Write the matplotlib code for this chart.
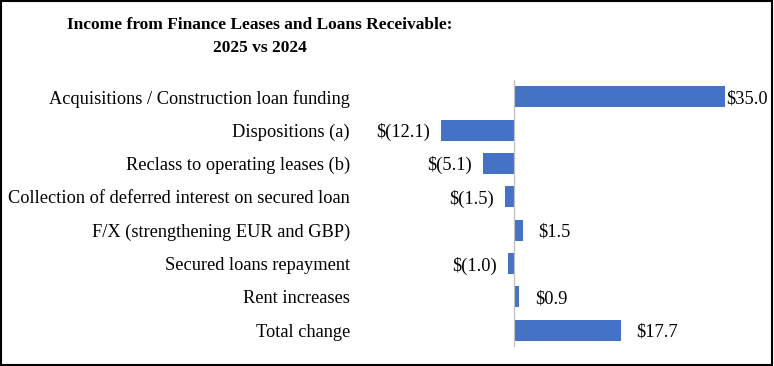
import matplotlib
matplotlib.use("Agg")
import matplotlib.pyplot as plt
from matplotlib.patches import Rectangle

# donnees
categories = [
    "Acquisitions / Construction loan funding",
    "Dispositions (a)",
    "Reclass to operating leases (b)",
    "Collection of deferred interest on secured loan",
    "F/X (strengthening EUR and GBP)",
    "Secured loans repayment",
    "Rent increases",
    "Total change",
]
values = [35.0, -12.1, -5.1, -1.5, 1.5, -1.0, 0.9, 17.7]
title_lines = ["Income from Finance Leases and Loans Receivable:", "2025 vs 2024"]

bar_color = "#4472C4"
W, H = 774, 366

plt.rcParams['font.family'] = ['Liberation Serif', 'DejaVu Serif']

fig = plt.figure(figsize=(W / 100, H / 100), dpi=100)

# axes en pixels: gauche 370, droite 768, haut 80, bas 347
left, right, top, bottom = 370, 768, 80, 347
ax = fig.add_axes([left / W, 1 - bottom / H, (right - left) / W, (bottom - top) / H])

ypos = list(range(len(categories)))
ax.barh(ypos, values, height=0.63, color=bar_color)
ax.set_xlim(-(514 - left) / 6.03, (right - 514) / 6.03)
ax.set_ylim(len(categories) - 0.5, -0.5)
ax.axvline(0, color="#BFBFBF", lw=0.9)

ax.set_yticks(ypos)
ax.set_yticklabels(categories, fontsize=13.2)
ax.tick_params(axis="y", length=0, pad=14.4)
ax.set_xticks([])
for s in ax.spines.values():
    s.set_visible(False)


def fmt(v):
    return "$(%.1f)" % abs(v) if v < 0 else "$%.1f" % v


labels = []
for y, v in zip(ypos, values):
    if v < 0:
        t = ax.annotate(fmt(v), (v, y), xytext=(-8, 0), textcoords="offset points",
                        ha="right", va="center_baseline", fontsize=13.2)
    else:
        t = ax.annotate(fmt(v), (v, y), xytext=(11, 0), textcoords="offset points",
                        ha="left", va="center_baseline", fontsize=13.2)
    labels.append(t)

# les etiquettes qui depassent sont ramenees dans la zone
fig.canvas.draw()
r = fig.canvas.get_renderer()
ax_right = ax.get_window_extent(r).x1
for t in labels:
    bb = t.get_window_extent(r)
    if bb.x1 > ax_right:
        t.set_position((t.get_position()[0] - (bb.x1 - ax_right) * 72 / 100, 0))

fig.text(260 / W, 1 - 25 / H, title_lines[0], ha="center", va="center",
         fontsize=12.5, fontweight="bold")
fig.text(260 / W, 1 - 48 / H, title_lines[1], ha="center", va="center",
         fontsize=12.5, fontweight="bold")

fig.patches.append(Rectangle((0.5 / W, 1.5 / H), (W - 2.5) / W, (H - 2.5) / H,
                             transform=fig.transFigure, fill=False,
                             edgecolor="black", lw=1.5))

fig.savefig("out.png", dpi=100)
